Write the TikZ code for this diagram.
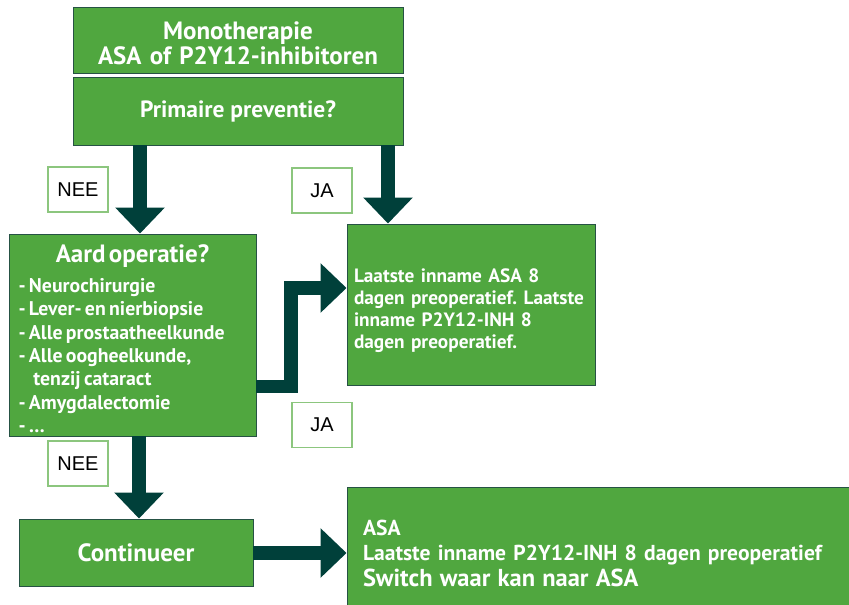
\documentclass[tikz,border=0pt]{standalone}
\usepackage{fontspec}
\setmainfont{PT Sans}
\newfontfamily\labelfont{Liberation Sans}
\usetikzlibrary{arrows.meta,calc}
\definecolor{boxgreen}{RGB}{80,167,63}
\definecolor{boxedge}{RGB}{38,82,68}
\definecolor{arrowc}{RGB}{0,64,58}
\definecolor{lbledge}{RGB}{140,198,126}
\frenchspacing
\begin{document}
\begin{tikzpicture}[x=1pt,y=-1pt,
  gbox/.style={draw=boxedge, line width=0.9pt, fill=boxgreen, text=white,
    font=\bfseries, inner sep=0pt, rectangle},
  lbl/.style={draw=lbledge, line width=1.2pt, fill=white, minimum width=60,
    minimum height=45, inner sep=0pt, font=\labelfont\fontsize{20}{24}\selectfont},
  bigarrow/.style={draw=arrowc, line width=13.5pt, line join=miter,
    -{Triangle[width=48pt,length=26pt]}}
]
\useasboundingbox (0,0) rectangle (849,605);

% boxes
\node[gbox, minimum width=330, minimum height=66, text width=320,
  font=\bfseries\fontsize{25}{25}\selectfont] (mono) at (238,40)
  {\centering\rule{0pt}{24pt}Monotherapie\\ASA of P2Y12-inhibitoren\par};
\node[gbox, minimum width=330, minimum height=68,
  font=\bfseries\fontsize{23.5}{25}\selectfont] (prim) at (238,111)
  {Primaire preventie?};
\node[gbox, minimum width=247, minimum height=202, text width=228] (aard) at (132.5,335)
  {\centering\fontsize{25}{27}\selectfont\rule{0pt}{25pt}Aard operatie?\par
   \vspace{7pt}
   \raggedright\fontsize{19.8}{23.3}\selectfont
   - Neurochirurgie\\
   - Lever- en nierbiopsie\\
   - Alle prostaatheelkunde\\
   - Alle oogheelkunde,\\
   \hspace*{0.75em}tenzij cataract\\
   - Amygdalectomie\\
   - \dots\par};
\node[gbox, minimum width=248, minimum height=161, text width=234,
  font=\bfseries\fontsize{19.3}{21.7}\selectfont] (laat) at (471,304.5)
  {\raggedright\rule{0pt}{26pt}Laatste inname ASA 8\\dagen preoperatief. Laatste\\inname P2Y12-INH 8\\dagen preoperatief.\par};
\node[gbox, minimum width=234, minimum height=67,
  font=\bfseries\fontsize{25}{25}\selectfont] (cont) at (136,552.5)
  {Continueer};
\node[gbox, minimum width=510, minimum height=132, text width=478, align=left,
  font=\bfseries\fontsize{21.6}{25.5}\selectfont] (asa) at (602,553)
  {ASA\\Laatste inname P2Y12-INH 8 dagen preoperatief\\{\fontsize{24.5}{25.5}\selectfont Switch waar kan naar ASA}};

% labels
\node[lbl] (nee1) at (78,189.5) {NEE};
\node[lbl] (ja1) at (322,190.5) {JA};
\node[lbl] (ja2) at (322,425) {JA};
\node[lbl] (nee2) at (78,463.5) {NEE};

% arrows
\draw[bigarrow] (prim.south -| 140,0) -- (aard.north -| 140,0);
\draw[bigarrow] (prim.south -| 388,0) -- (laat.north -| 388,0);
\draw[bigarrow] (aard.east |- 0,386.5) -| (291,288) -- (laat.west |- 0,288);
\draw[bigarrow] (aard.south -| 139,0) -- (cont.north -| 139,0);
\draw[bigarrow] (cont.east |- 0,553) -- (asa.west |- 0,553);
\end{tikzpicture}
\end{document}
